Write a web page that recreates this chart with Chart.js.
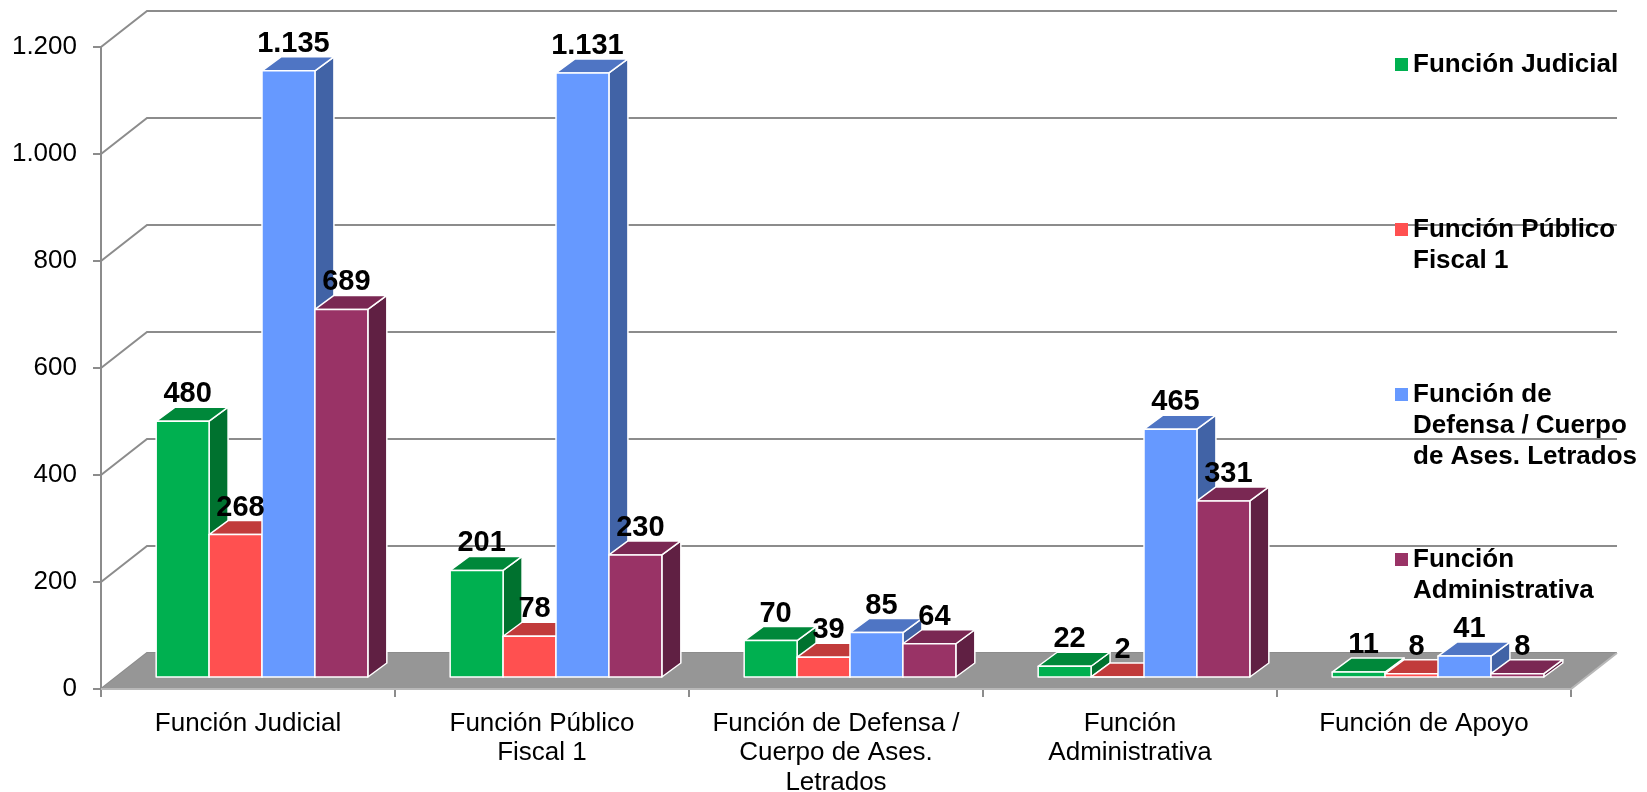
<!DOCTYPE html>
<html>
<head>
<meta charset="utf-8">
<script src="https://cdn.jsdelivr.net/npm/chart.js@4"></script>
<style>
  html, body { margin: 0; padding: 0; background: #fff; }
</style>
</head>
<body>
<canvas id="chart" width="1647" height="792"></canvas>
<script>
// categories (x axis), split into the lines shown under the axis
const categories = [
    ['Función Judicial'],
    ['Función Público', 'Fiscal 1'],
    ['Función de Defensa /', 'Cuerpo de Ases.', 'Letrados'],
    ['Función', 'Administrativa'],
    ['Función de Apoyo']
];

const seriesNames = ['Función Judicial', 'Función Público Fiscal 1', 'Función de Defensa / Cuerpo de Ases. Letrados', 'Función Administrativa'];
const legendLines = [
    ['Función Judicial'],
    ['Función Público', 'Fiscal 1'],
    ['Función de', 'Defensa / Cuerpo', 'de Ases. Letrados'],
    ['Función', 'Administrativa']
];

const judicial = [480, 201, 70, 22, 11];
const publicoFiscal = [268, 78, 39, 2, 8];
const defensa = [1135, 1131, 85, 465, 41];
const administrativa = [689, 230, 64, 331, 8];

const yMin = 0;
const yMax = 1200;
const yStep = 200;

// front / top / side colours of each series
const colors = [
    { front: '#00b050', top: '#00883a', side: '#00722f' },
    { front: '#ff5050', top: '#c13b3b', side: '#a83030' },
    { front: '#6699ff', top: '#4f75c4', side: '#4163a6' },
    { front: '#993366', top: '#7a2853', side: '#602043' }
];

const FONT = '"Liberation Sans", Arial, sans-serif';

// thousands separator with a dot, as in the original
function fmt(v) {
    return String(v).replace(/\B(?=(\d{3})+(?!\d))/g, '.');
}

// depth of the floor / back wall, offset of the bars inside it and their own depth
const WALL = { dx: 46, dy: -36 };
const BAR_SHIFT = { dx: 14, dy: -11 };
const BAR_DEPTH = { dx: 19, dy: -14 };

const threeD = {
    id: 'threeD',
    beforeDatasetsDraw(chart) {
        const ctx = chart.ctx;
        const area = chart.chartArea;
        const yScale = chart.scales.y;

        ctx.save();
        // back wall gridlines
        ctx.strokeStyle = '#8c8c8c';
        ctx.lineWidth = 2;
        yScale.ticks.forEach(t => {
            const py = yScale.getPixelForValue(t.value);
            ctx.beginPath();
            ctx.moveTo(area.left, py);
            ctx.lineTo(area.left + WALL.dx, py + WALL.dy);
            ctx.lineTo(area.right + WALL.dx, py + WALL.dy);
            ctx.stroke();
        });

        // floor
        ctx.fillStyle = '#969696';
        ctx.beginPath();
        ctx.moveTo(area.left, area.bottom);
        ctx.lineTo(area.left + WALL.dx, area.bottom + WALL.dy);
        ctx.lineTo(area.right + WALL.dx, area.bottom + WALL.dy);
        ctx.lineTo(area.right, area.bottom);
        ctx.closePath();
        ctx.fill();
        ctx.strokeStyle = '#b8b8b8';
        ctx.lineWidth = 2;
        ctx.beginPath();
        ctx.moveTo(area.left, area.bottom);
        ctx.lineTo(area.right, area.bottom);
        ctx.lineTo(area.right + WALL.dx, area.bottom + WALL.dy);
        ctx.stroke();

        // bars, drawn left to right so each one hides the side of its neighbour
        const n = chart.data.labels.length;
        for (let j = 0; j < n; j++) {
            chart.data.datasets.forEach((ds, i) => {
                const el = chart.getDatasetMeta(i).data[j];
                const p = el.getProps(['x', 'y', 'base', 'width'], true);
                const l = p.x - p.width / 2 + BAR_SHIFT.dx;
                const r = p.x + p.width / 2 + BAR_SHIFT.dx;
                const t = p.y + BAR_SHIFT.dy;
                const b = p.base + BAR_SHIFT.dy;
                const c = colors[i];
                ctx.lineWidth = 1.5;
                ctx.strokeStyle = '#ffffff';
                ctx.lineJoin = 'round';

                ctx.fillStyle = c.side;
                ctx.beginPath();
                ctx.moveTo(r, b);
                ctx.lineTo(r + BAR_DEPTH.dx, b + BAR_DEPTH.dy);
                ctx.lineTo(r + BAR_DEPTH.dx, t + BAR_DEPTH.dy);
                ctx.lineTo(r, t);
                ctx.closePath();
                ctx.fill();
                ctx.stroke();

                ctx.fillStyle = c.top;
                ctx.beginPath();
                ctx.moveTo(l, t);
                ctx.lineTo(l + BAR_DEPTH.dx, t + BAR_DEPTH.dy);
                ctx.lineTo(r + BAR_DEPTH.dx, t + BAR_DEPTH.dy);
                ctx.lineTo(r, t);
                ctx.closePath();
                ctx.fill();
                ctx.stroke();

                ctx.fillStyle = c.front;
                ctx.fillRect(l, t, r - l, b - t);
                ctx.strokeRect(l, t, r - l, b - t);
            });
        }
        ctx.restore();
        return false;
    },
    afterDraw(chart) {
        const ctx = chart.ctx;
        ctx.save();
        // value labels
        ctx.fillStyle = '#000';
        ctx.font = 'bold 29px ' + FONT;
        ctx.textAlign = 'center';
        ctx.textBaseline = 'alphabetic';
        chart.data.datasets.forEach((ds, i) => {
            chart.getDatasetMeta(i).data.forEach((el, j) => {
                const p = el.getProps(['x', 'y'], true);
                const x = p.x + BAR_SHIFT.dx + 5;
                const y = p.y + BAR_SHIFT.dy + BAR_DEPTH.dy - 5;
                ctx.fillText(fmt(ds.data[j]), x, y);
            });
        });

        // legend
        ctx.font = 'bold 26px ' + FONT;
        ctx.textAlign = 'left';
        ctx.textBaseline = 'middle';
        legendLines.forEach((lines, i) => {
            const y0 = 65 + i * 165;
            ctx.fillStyle = colors[i].front;
            ctx.fillRect(1395, y0 - 7, 13, 13);
            ctx.fillStyle = '#000';
            lines.forEach((line, k) => ctx.fillText(line, 1413, y0 + k * 31));
        });
        ctx.restore();
    }
};

const seriesValues = [judicial, publicoFiscal, defensa, administrativa];

new Chart(document.getElementById('chart'), {
    type: 'bar',
    data: {
        labels: categories,
        datasets: seriesValues.map((vals, i) => ({
            label: seriesNames[i],
            data: vals,
            backgroundColor: colors[i].front,
            barPercentage: 1.0,
            categoryPercentage: 0.72
        }))
    },
    options: {
        responsive: false,
        animation: false,
        devicePixelRatio: 1,
        layout: { padding: { top: 47, right: 76, left: 0, bottom: 0 } },
        scales: {
            x: {
                grid: { offset: true, drawOnChartArea: false, tickLength: 8, color: '#8c8c8c', lineWidth: 2 },
                border: { color: '#b8b8b8', width: 2 },
                ticks: {
                    color: '#000',
                    font: { family: FONT, size: 26, lineHeight: 1.13 },
                    padding: 12,
                    maxRotation: 0,
                    autoSkip: false
                },
                afterFit(scale) { scale.height = 103; }
            },
            y: {
                min: yMin,
                max: yMax,
                grid: { drawOnChartArea: false, tickLength: 8, color: '#8c8c8c', lineWidth: 2 },
                border: { color: '#8c8c8c', width: 2 },
                ticks: {
                    stepSize: yStep,
                    color: '#000',
                    font: { family: FONT, size: 26 },
                    padding: 16,
                    callback: v => fmt(v)
                },
                afterFit(scale) { scale.width = 101; }
            }
        },
        plugins: {
            legend: { display: false },
            tooltip: { enabled: false }
        }
    },
    plugins: [threeD]
});
</script>
</body>
</html>
